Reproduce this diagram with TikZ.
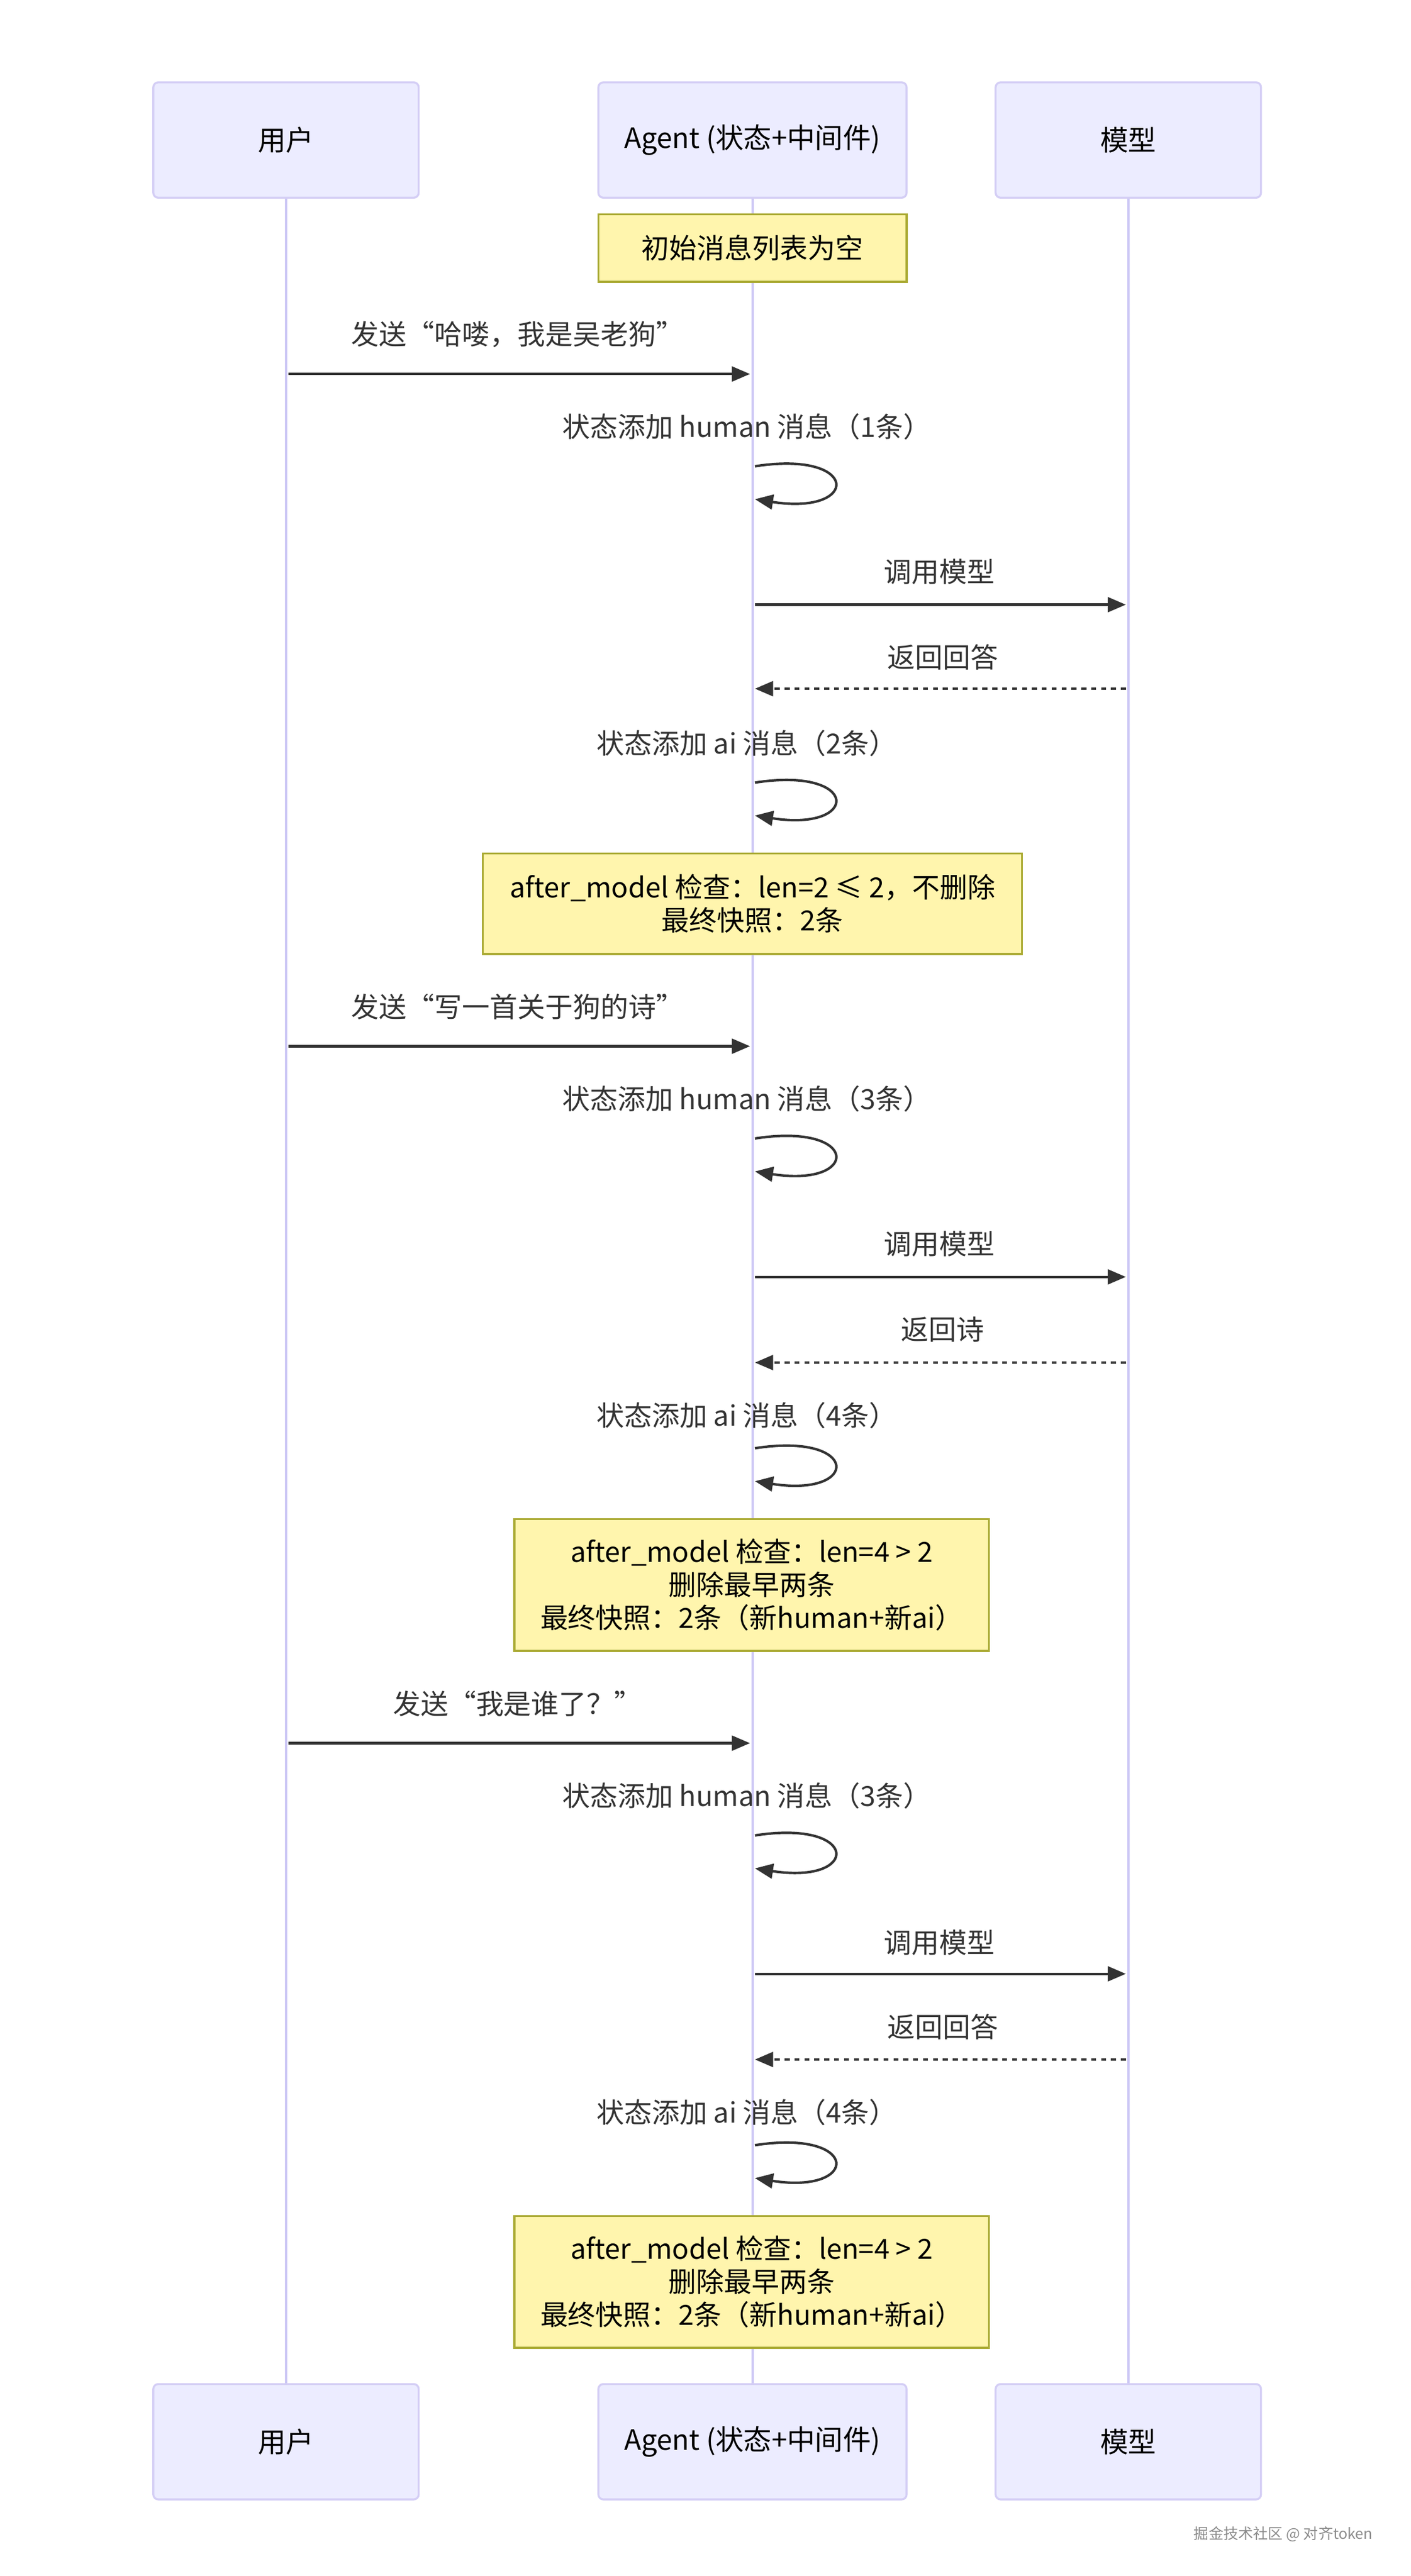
\documentclass[tikz,border=0pt]{standalone}
\usepackage{fontspec}
\setmainfont{Noto Sans CJK SC}
\usetikzlibrary{arrows.meta}
\definecolor{actorfill}{HTML}{ECECFF}
\definecolor{actorline}{HTML}{D4CEF5}
\definecolor{lifecol}{HTML}{CDC8F5}
\definecolor{notefill}{HTML}{FFF5AD}
\definecolor{noteline}{HTML}{AAAA33}
\definecolor{msgcol}{HTML}{333333}
\definecolor{wmcol}{HTML}{8A8A8A}
\begin{document}
\begin{tikzpicture}[x=1pt,y=-1pt,
  actor/.style={draw=actorline, fill=actorfill, line width=1.2pt, rounded corners=3pt, minimum height=70pt, font=\fontsize{17}{20}\selectfont, inner sep=0pt},
  notebox/.style={draw=noteline, fill=notefill, line width=1.2pt, align=center, font=\fontsize{16.8}{20}\selectfont, inner sep=0pt},
  msg/.style={draw=msgcol, line width=1.5pt, -{Triangle[length=11pt,width=9pt]}},
  reply/.style={msg, dash pattern=on 3pt off 3pt},
  lbl/.style={font=\fontsize{16.8}{20}\selectfont, text=msgcol, inner sep=0pt},
  life/.style={draw=lifecol, line width=1.5pt}]
\useasboundingbox (0,0) rectangle (856,1563.5);
% actors
\node[actor, minimum width=161pt] (ut) at (173.5,85) {用户};
\node[actor, minimum width=187pt] (at) at (456.5,85) {Agent (状态+中间件)};
\node[actor, minimum width=161pt] (mt) at (684.5,85) {模型};
\node[actor, minimum width=161pt] (ub) at (173.5,1482) {用户};
\node[actor, minimum width=187pt] (ab) at (456.5,1482) {Agent (状态+中间件)};
\node[actor, minimum width=161pt] (mb) at (684.5,1482) {模型};
% lifelines
\draw[life] (ut.south) -- (ub.north);
\draw[life] (at.south) -- (ab.north);
\draw[life] (mt.south) -- (mb.north);
% note 1
\node[notebox, minimum width=187pt, minimum height=41pt] (n1) at (456.5,150.5) {初始消息列表为空};
% round 1
\coordinate (a1s) at (175,227); \coordinate (a1e) at (455,227);
\draw[msg] (a1s) -- (a1e);
\node[lbl] (t1) at (314,203) {发送“哈喽，我是吴老狗”};
\coordinate (s1s) at (458,283); \coordinate (s1e) at (458,303);
\draw[msg] (s1s) .. controls +(64,-10) and +(64,10) .. (s1e);
\node[lbl] (t2) at (453,259) {状态添加 human 消息（1条）};
\coordinate (c1s) at (458,367); \coordinate (c1e) at (683,367);
\draw[msg] (c1s) -- (c1e);
\node[lbl] (t3) at (570,347) {调用模型};
\coordinate (r1s) at (683,418); \coordinate (r1e) at (458,418);
\draw[reply] (r1s) -- (r1e);
\node[lbl] (t4) at (572,399) {返回回答};
\coordinate (s2s) at (458,475); \coordinate (s2e) at (458,495);
\draw[msg] (s2s) .. controls +(64,-10) and +(64,10) .. (s2e);
\node[lbl] (t5) at (453,451) {状态添加 ai 消息（2条）};
\node[notebox, minimum width=327pt, minimum height=61pt] (n2) at (456.5,548.5) {after\_model 检查：len=2 ≤ 2，不删除\\最终快照：2条};
% round 2
\coordinate (a2s) at (175,635); \coordinate (a2e) at (455,635);
\draw[msg] (a2s) -- (a2e);
\node[lbl] (t6) at (314,611) {发送“写一首关于狗的诗”};
\coordinate (s3s) at (458,691); \coordinate (s3e) at (458,711);
\draw[msg] (s3s) .. controls +(64,-10) and +(64,10) .. (s3e);
\node[lbl] (t7) at (453,667) {状态添加 human 消息（3条）};
\coordinate (c2s) at (458,775); \coordinate (c2e) at (683,775);
\draw[msg] (c2s) -- (c2e);
\node[lbl] (t8) at (570,755) {调用模型};
\coordinate (r2s) at (683,827); \coordinate (r2e) at (458,827);
\draw[reply] (r2s) -- (r2e);
\node[lbl] (t9) at (572,807) {返回诗};
\coordinate (s4s) at (458,879); \coordinate (s4e) at (458,899);
\draw[msg] (s4s) .. controls +(64,-10) and +(64,10) .. (s4e);
\node[lbl] (t10) at (453,859) {状态添加 ai 消息（4条）};
\node[notebox, minimum width=288pt, minimum height=80pt] (n3) at (456,962) {after\_model 检查：len=4 > 2\\删除最早两条\\最终快照：2条（新human+新ai）};
% round 3
\coordinate (a3s) at (175,1058); \coordinate (a3e) at (455,1058);
\draw[msg] (a3s) -- (a3e);
\node[lbl] (t11) at (314,1034) {发送“我是谁了？”};
\coordinate (s5s) at (458,1114); \coordinate (s5e) at (458,1134);
\draw[msg] (s5s) .. controls +(64,-10) and +(64,10) .. (s5e);
\node[lbl] (t12) at (453,1090) {状态添加 human 消息（3条）};
\coordinate (c3s) at (458,1198); \coordinate (c3e) at (683,1198);
\draw[msg] (c3s) -- (c3e);
\node[lbl] (t13) at (570,1179) {调用模型};
\coordinate (r3s) at (683,1250); \coordinate (r3e) at (458,1250);
\draw[reply] (r3s) -- (r3e);
\node[lbl] (t14) at (572,1230) {返回回答};
\coordinate (s6s) at (458,1302); \coordinate (s6e) at (458,1322);
\draw[msg] (s6s) .. controls +(64,-10) and +(64,10) .. (s6e);
\node[lbl] (t15) at (453,1282) {状态添加 ai 消息（4条）};
\node[notebox, minimum width=288pt, minimum height=80pt] (n4) at (456,1385) {after\_model 检查：len=4 > 2\\删除最早两条\\最终快照：2条（新human+新ai）};
% watermark
\node[anchor=east, font=\fontsize{9}{11}\selectfont, text=wmcol, inner sep=0pt] (wm) at (833,1538) {掘金技术社区 @ 对齐token};
\end{tikzpicture}
\end{document}
